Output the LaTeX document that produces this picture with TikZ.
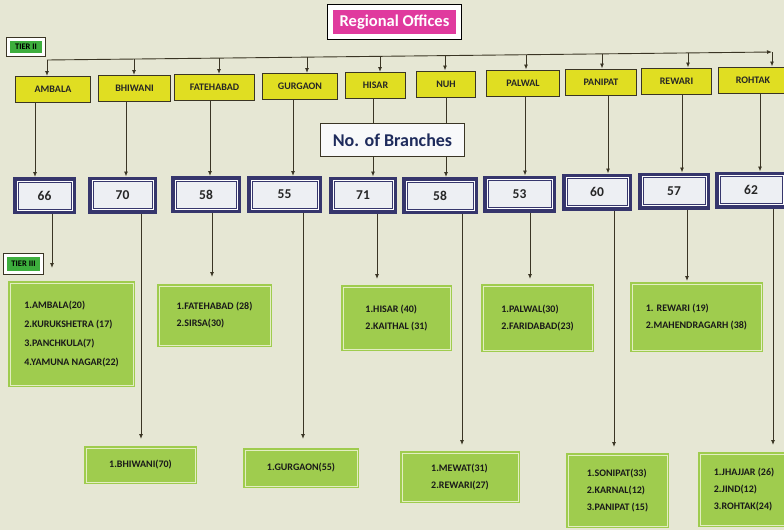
\documentclass[tikz,border=0pt]{standalone}
\usepackage{fontspec}
\setmainfont{Carlito}
\usetikzlibrary{arrows.meta}
\definecolor{cBg}{HTML}{E6E7D4}
\definecolor{cY}{HTML}{E0DE22}
\definecolor{cM}{HTML}{E03A9E}
\definecolor{cN}{HTML}{36366C}
\definecolor{cW}{HTML}{EDEFF3}
\definecolor{cG}{HTML}{9FCC4E}
\definecolor{cP}{HTML}{E3EEC2}
\definecolor{cT}{HTML}{3DAE3D}
\definecolor{cL}{HTML}{3A3524}
\definecolor{cB}{HTML}{1E2B5C}
\tikzset{myoffice/.style={
  shape=rectangle,
  draw=cL,
  fill=cY,
  line width=1pt,
  minimum height=26pt,
  inner sep=0pt,
  font=\fontsize{10}{11}\selectfont\bfseries,
  text = black!85,
  }
}
\tikzset{mycount/.style={
  shape=rectangle,
  preaction={draw=cN, line width=10pt},
  preaction={draw=white, line width=3pt},
  draw=cN,
  line width=1pt,
  fill=cW,
  minimum height=27pt,
  inner sep=0pt,
  outer sep=5pt,
  font=\fontsize{13.5}{15}\selectfont\bfseries,
  text = black!85,
  }
}
\tikzset{mydistrict/.style={
  shape=rectangle,
  draw=cG,
  double=cP,
  double distance=0.8pt,
  line width=1.5pt,
  fill=cG,
  inner sep=0pt,
  outer sep=2pt,
  align=left,
  font=\fontsize{10}{17}\selectfont\bfseries,
  text = black!90,
  }
}
\tikzset{mytier/.style={
  shape=rectangle,
  fill=cT,
  draw=white,
  line width=3pt,
  preaction={draw=cL, line width=4.4pt},
  inner sep=0pt,
  font=\fontsize{8.5}{9}\selectfont\bfseries,
  text = black,
  }
}
\tikzset{myarrow/.style={
  -{Latex[length=5pt,width=4pt]},
  draw=cL,
  line width=0.9pt,
  }
}
\begin{document}
\begin{tikzpicture}[x=1pt,y=-1pt]
  \useasboundingbox (0,0) rectangle (784,530);
  \fill[cBg] (0,0) rectangle (784,530);

  % header
  \node [fill=cM, draw=white, line width=5pt, preaction={draw=black, line width=7pt},
         minimum width=128pt, minimum height=29pt, inner sep=0pt,
         font=\fontsize{16.5}{18}\selectfont\bfseries, text=white] (title) at (394.5,22) {Regional Offices};
  \node [mytier, minimum width=35.6pt, minimum height=15.6pt] (tier2) at (26,47) {TIER II};

  % tier II offices
  \node [myoffice, minimum width=75pt] (ambala) at (53,89.5) {AMBALA};
  \node [myoffice, minimum width=72pt] (bhiwani) at (134.5,88.5) {BHIWANI};
  \node [myoffice, minimum width=80pt] (fatehabad) at (214.5,87.5) {FATEHABAD};
  \node [myoffice, minimum width=75pt] (gurgaon) at (300,86.5) {GURGAON};
  \node [myoffice, minimum width=60pt] (hisar) at (375.5,85.5) {HISAR};
  \node [myoffice, minimum width=59pt] (nuh) at (446,84) {NUH};
  \node [myoffice, minimum width=73pt] (palwal) at (523,83) {PALWAL};
  \node [myoffice, minimum width=71pt] (panipat) at (601,82) {PANIPAT};
  \node [myoffice, minimum width=70pt] (rewari) at (676.5,81) {REWARI};
  \node [myoffice, minimum width=69pt] (rohtak) at (753,80) {ROHTAK};

  % bus
  \coordinate (bA) at (47,60);
  \coordinate (bB) at (134,59);
  \coordinate (bF) at (219,58.1);
  \coordinate (bG) at (307,57.1);
  \coordinate (bH) at (380,56.3);
  \coordinate (bN) at (445,55.6);
  \coordinate (bP) at (526,54.7);
  \coordinate (bPa) at (602,53.9);
  \coordinate (bR) at (688,52.9);
  \coordinate (bRo) at (772,52);
  \draw [myarrow] (bA) -- (bRo);
  \draw [myarrow] (bA) -- (bA |- ambala.north);
  \draw [myarrow] (bB) -- (bB |- bhiwani.north);
  \draw [myarrow] (bF) -- (bF |- fatehabad.north);
  \draw [myarrow] (bG) -- (bG |- gurgaon.north);
  \draw [myarrow] (bH) -- (bH |- hisar.north);
  \draw [myarrow] (bN) -- (bN |- nuh.north);
  \draw [myarrow] (bP) -- (bP |- palwal.north);
  \draw [myarrow] (bPa) -- (bPa |- panipat.north);
  \draw [myarrow] (bR) -- (bR |- rewari.north);
  \draw [myarrow] (bRo) -- (bRo |- rohtak.north);

  % branch counts
  \node [mycount, minimum width=53pt] (n66) at (44.5,195.5) {66};
  \node [mycount, minimum width=59pt] (n70) at (122.5,195) {70};
  \node [mycount, minimum width=60pt] (n58) at (206,194.5) {58};
  \node [mycount, minimum width=65pt] (n55) at (284.5,194.5) {55};
  \node [mycount, minimum width=58pt] (n71) at (363,195) {71};
  \node [mycount, minimum width=66pt] (n58b) at (440,195.5) {58};
  \node [mycount, minimum width=63pt] (n53) at (519.5,194) {53};
  \node [mycount, minimum width=60pt] (n60) at (597,192) {60};
  \node [mycount, minimum width=62pt] (n57) at (674,191) {57};
  \node [mycount, minimum width=62pt] (n62) at (751,190) {62};

  \draw [myarrow] (35,0 |- ambala.south) -- (35,0 |- n66.north);
  \draw [myarrow] (126,0 |- bhiwani.south) -- (126,0 |- n70.north);
  \draw [myarrow] (210,0 |- fatehabad.south) -- (210,0 |- n58.north);
  \draw [myarrow] (293,0 |- gurgaon.south) -- (293,0 |- n55.north);
  \draw [myarrow] (373,0 |- hisar.south) -- (373,0 |- n71.north);
  \draw [myarrow] (446,0 |- nuh.south) -- (446,0 |- n58b.north);
  \draw [myarrow] (525,0 |- palwal.south) -- (525,0 |- n53.north);
  \draw [myarrow] (608,0 |- panipat.south) -- (608,0 |- n60.north);
  \draw [myarrow] (682,0 |- rewari.south) -- (682,0 |- n57.north);
  \draw [myarrow] (760,0 |- rohtak.south) -- (760,0 |- n62.north);

  \node [draw=cL, fill=white!60!cW, line width=1pt, minimum width=144pt, minimum height=33pt,
         inner sep=0pt, font=\fontsize{18}{20}\selectfont\bfseries, text=cB] (branches) at (392.5,140) {No. of Branches};

  % tier III districts
  \node [mytier, minimum width=36.6pt, minimum height=17.6pt] (tier3) at (23.5,264) {TIER III};
  \node [mydistrict, minimum width=123pt, minimum height=102pt, font=\fontsize{10}{19}\selectfont\bfseries] (gA) at (71.5,334)
        {1.AMBALA(20)\\2.KURUKSHETRA (17)\\3.PANCHKULA(7)\\4.YAMUNA NAGAR(22)};
  \node [mydistrict, minimum width=111pt, minimum height=59pt] (gF) at (214.5,315.5) {1.FATEHABAD (28)\\2.SIRSA(30)};
  \node [mydistrict, minimum width=107pt, minimum height=62pt] (gH) at (396.5,318) {1.HISAR (40)\\2.KAITHAL (31)};
  \node [mydistrict, minimum width=109pt, minimum height=64pt] (gP) at (537.5,318) {1.PALWAL(30)\\2.FARIDABAD(23)};
  \node [mydistrict, minimum width=129pt, minimum height=66pt] (gR) at (696.5,317) {1. REWARI (19)\\2.MAHENDRAGARH (38)};
  \node [mydistrict, minimum width=109pt, minimum height=34pt] (gB) at (140.5,465) {1.BHIWANI(70)};
  \node [mydistrict, minimum width=112pt, minimum height=36pt] (gG) at (301,468) {1.GURGAON(55)};
  \node [mydistrict, minimum width=116pt, minimum height=48pt] (gN) at (460,477) {1.MEWAT(31)\\2.REWARI(27)};
  \node [mydistrict, minimum width=99pt, minimum height=71pt] (gS) at (617.5,490.5) {1.SONIPAT(33)\\2.KARNAL(12)\\3.PANIPAT (15)};
  \node [mydistrict, minimum width=88pt, minimum height=71pt] (gJ) at (744,489.5) {1.JHAJJAR (26)\\2.JIND(12)\\3.ROHTAK(24)};

  \coordinate (tA) at (52,268);
  \draw [myarrow] (tA |- n66.south) -- (tA);
  \draw [myarrow, shorten >=7pt] (141,0 |- n70.south) -- (141,0 |- gB.north);
  \draw [myarrow, shorten >=7pt] (212,0 |- n58.south) -- (212,0 |- gF.north);
  \draw [myarrow, shorten >=9pt] (303,0 |- n55.south) -- (303,0 |- gG.north);
  \draw [myarrow, shorten >=6pt] (377,0 |- n71.south) -- (377,0 |- gH.north);
  \draw [myarrow, shorten >=6pt] (462,0 |- n58b.south) -- (462,0 |- gN.north);
  \draw [myarrow, shorten >=5pt] (530,0 |- n53.south) -- (530,0 |- gP.north);
  \draw [myarrow, shorten >=6pt] (614,0 |- n60.south) -- (614,0 |- gS.north);
  \draw [myarrow, shorten >=1pt] (687,0 |- n57.south) -- (687,0 |- gR.north);
  \draw [myarrow, shorten >=7pt] (773,0 |- n62.south) -- (773,0 |- gJ.north);
\end{tikzpicture}
\end{document}
